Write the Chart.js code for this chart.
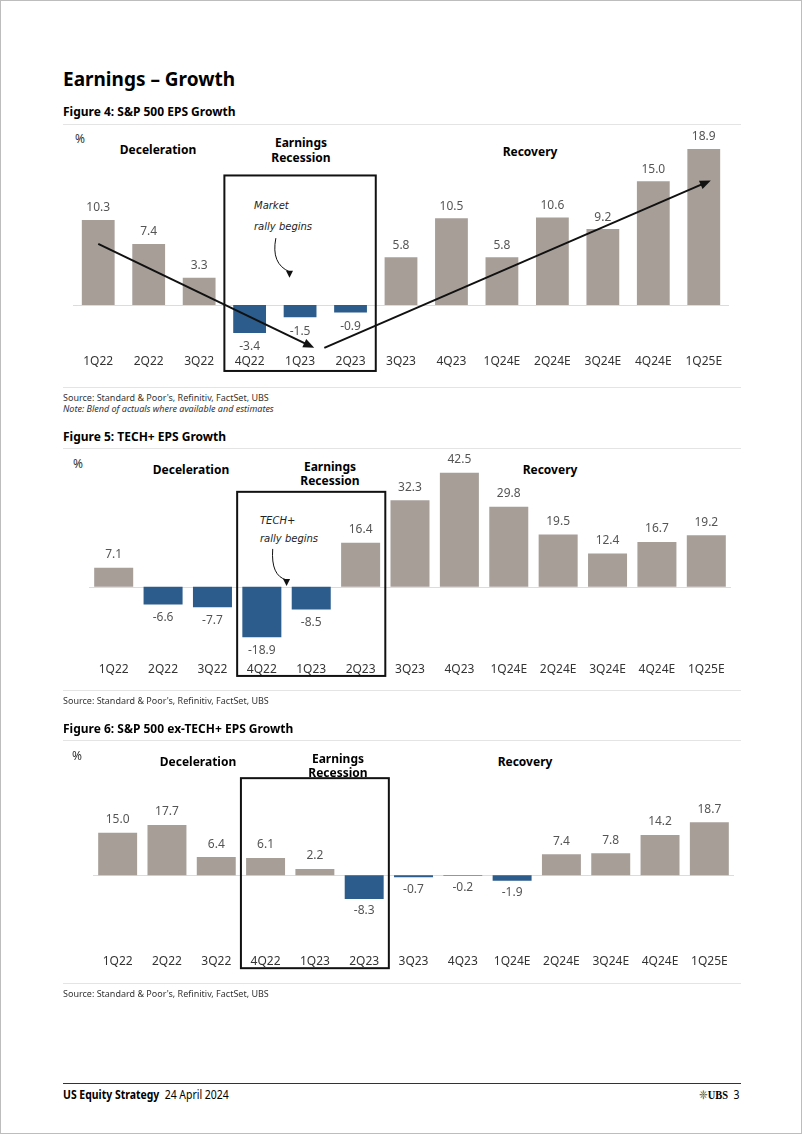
<!DOCTYPE html>
<html>
<head>
<meta charset="utf-8">
<script src="https://cdn.jsdelivr.net/npm/chart.js@4.4.1/dist/chart.umd.min.js"></script>
<style>
  body { margin: 0; background: #fff; }
  #page { position: relative; width: 802px; height: 1134px; overflow: hidden; font-family: "Noto Sans", sans-serif; color: #000; border: 1px solid #bdbdbd; box-sizing: border-box; }
  .t { position: absolute; white-space: nowrap; line-height: 1; }
  .c { transform: translateX(-50%); }
  .b { font-weight: bold; }
  .sec { font-size: 12px; font-weight: bold; }
  .note { font-family: "DejaVu Sans", sans-serif; font-style: italic; font-size: 10px; color: #222; }
  .src { font-size: 9px; color: #333; }
  .rule { position: absolute; left: 62px; width: 678px; height: 1px; background: #e4e4e4; }
  .foot { font-size: 12px; transform: scaleX(0.87); }
  .box { position: absolute; }
</style>
</head>
<body>
<div id="page">
  <div class="t b" style="left:62px;top:69px;font-size:19px;">Earnings – Growth</div>

  <div class="t b" style="left:62px;top:105px;font-size:12px;">Figure 4: S&amp;P 500 EPS Growth</div>
  <div class="rule" style="top:123px"></div>
  <div class="t" style="left:74px;top:132px;font-size:12px;color:#333">%</div>
  <div class="t sec c" style="left:157px;top:143px">Deceleration</div>
  <div class="t sec c" style="left:300px;top:136px">Earnings</div>
  <div class="t sec c" style="left:300px;top:151px">Recession</div>
  <div class="t sec c" style="left:529px;top:145px">Recovery</div>
  <div class="t note" style="left:253px;top:200px">Market</div>
  <div class="t note" style="left:253px;top:221px">rally begins</div>
  <div class="box" style="left:60px;top:120px"><canvas id="c1" width="690" height="260"></canvas></div>
  <div class="rule" style="top:386px"></div>
  <div class="t src" style="left:62px;top:392px">Source: Standard &amp; Poor's, Refinitiv, FactSet, UBS</div>
  <div class="t src" style="left:62px;top:403px;font-style:italic">Note: Blend of actuals where available and estimates</div>

  <div class="t b" style="left:62px;top:430px;font-size:12px;">Figure 5: TECH+ EPS Growth</div>
  <div class="rule" style="top:447px"></div>
  <div class="t" style="left:72px;top:457px;font-size:12px;color:#333">%</div>
  <div class="t sec c" style="left:190px;top:463px">Deceleration</div>
  <div class="t sec c" style="left:329px;top:460px">Earnings</div>
  <div class="t sec c" style="left:329px;top:474px">Recession</div>
  <div class="t sec c" style="left:549px;top:463px">Recovery</div>
  <div class="t note" style="left:259px;top:515px">TECH+</div>
  <div class="t note" style="left:259px;top:533px">rally begins</div>
  <div class="box" style="left:60px;top:445px"><canvas id="c2" width="690" height="250"></canvas></div>
  <div class="rule" style="top:689px"></div>
  <div class="t src" style="left:62px;top:695px">Source: Standard &amp; Poor's, Refinitiv, FactSet, UBS</div>

  <div class="t b" style="left:62px;top:722px;font-size:12px;">Figure 6: S&amp;P 500 ex-TECH+ EPS Growth</div>
  <div class="rule" style="top:739px"></div>
  <div class="t" style="left:71px;top:749px;font-size:12px;color:#333">%</div>
  <div class="t sec c" style="left:197px;top:755px">Deceleration</div>
  <div class="t sec c" style="left:337px;top:752px">Earnings</div>
  <div class="t sec c" style="left:337px;top:766px">Recession</div>
  <div class="t sec c" style="left:524px;top:755px">Recovery</div>
  <div class="box" style="left:60px;top:775px"><canvas id="c3" width="690" height="210"></canvas></div>
  <div class="rule" style="top:982px"></div>
  <div class="t src" style="left:62px;top:988px">Source: Standard &amp; Poor's, Refinitiv, FactSet, UBS</div>

  <div class="rule" style="top:1082px;background:#333"></div>
  <div class="t foot" style="left:62px;top:1088px;transform-origin:left center"><b>US Equity Strategy</b>&nbsp; 24 April 2024</div>
  <div class="t foot" style="right:62px;top:1088px;transform-origin:right center"><span style="color:#555">&#10056;</span><span style="font-family:'Liberation Serif',serif;font-weight:bold">UBS</span>&nbsp; 3</div>
</div>

<script>
const categories = ["1Q22", "2Q22", "3Q22", "4Q22", "1Q23", "2Q23", "3Q23", "4Q23", "1Q24E", "2Q24E", "3Q24E", "4Q24E", "1Q25E"];
const spxGrowth = [10.3, 7.4, 3.3, -3.4, -1.5, -0.9, 5.8, 10.5, 5.8, 10.6, 9.2, 15.0, 18.9];
const techGrowth = [7.1, -6.6, -7.7, -18.9, -8.5, 16.4, 32.3, 42.5, 29.8, 19.5, 12.4, 16.7, 19.2];
const exTechGrowth = [15.0, 17.7, 6.4, 6.1, 2.2, -8.3, -0.7, -0.2, -1.9, 7.4, 7.8, 14.2, 18.7];

const GRAY = "#a79e98";
const BLUE = "#2b5c8c";
const FONT = "Noto Sans";

// value labels above / below each bar
const valueLabels = {
  id: "valueLabels",
  afterDatasetsDraw(chart, args, opts) {
    const ctx = chart.ctx;
    const meta = chart.getDatasetMeta(0);
    const data = chart.data.datasets[0].data;
    ctx.save();
    ctx.font = "12px " + FONT;
    ctx.fillStyle = "#555";
    ctx.textAlign = "center";
    ctx.textBaseline = "middle";
    meta.data.forEach((bar, i) => {
      const v = data[i];
      const y = v < 0 ? bar.y + opts.down : bar.y - opts.up;
      ctx.fillText(v.toFixed(1), bar.x, y);
    });
    ctx.restore();
  }
};

function arrowHead(ctx, x1, y1, x2, y2, len, half) {
  const a = Math.atan2(y2 - y1, x2 - x1);
  ctx.beginPath();
  ctx.moveTo(x2, y2);
  ctx.lineTo(x2 - len * Math.cos(a) + half * Math.sin(a), y2 - len * Math.sin(a) - half * Math.cos(a));
  ctx.lineTo(x2 - len * Math.cos(a) - half * Math.sin(a), y2 - len * Math.sin(a) + half * Math.cos(a));
  ctx.closePath();
  ctx.fill();
}

// zero line, recession box, trend arrows, note arrow
const annotations = {
  id: "annotations",
  beforeDatasetsDraw(chart) {
    const { ctx, chartArea, scales: { y } } = chart;
    const y0 = Math.round(y.getPixelForValue(0)) + 0.5;
    ctx.save();
    ctx.strokeStyle = "#dcdcdc";
    ctx.lineWidth = 1;
    ctx.beginPath();
    ctx.moveTo(chartArea.left, y0);
    ctx.lineTo(chartArea.right, y0);
    ctx.stroke();
    ctx.restore();
  },
  afterDraw(chart, args, opts) {
    const { ctx, scales: { x, y } } = chart;
    const P = (p) => [x.getPixelForValue(p[0]), y.getPixelForValue(p[1])];
    ctx.save();
    ctx.strokeStyle = "#111";
    ctx.fillStyle = "#111";

    const b = opts.box;
    const bx1 = x.getPixelForValue(b.from), bx2 = x.getPixelForValue(b.to);
    const by1 = y.getPixelForValue(b.top), by2 = y.getPixelForValue(b.bottom);
    ctx.lineWidth = 2;
    ctx.strokeRect(bx1, by1, bx2 - bx1, by2 - by1);

    (opts.arrows || []).forEach(ar => {
      const [x1, y1] = P(ar.from), [x2, y2] = P(ar.to);
      const a = Math.atan2(y2 - y1, x2 - x1);
      ctx.lineWidth = 2;
      ctx.beginPath();
      ctx.moveTo(x1, y1);
      ctx.lineTo(x2 - 8 * Math.cos(a), y2 - 8 * Math.sin(a));
      ctx.stroke();
      arrowHead(ctx, x1, y1, x2, y2, 11, 4.5);
    });

    if (opts.curve) {
      const [sx, sy] = P(opts.curve.start), [cx, cy] = P(opts.curve.ctrl), [tx, ty] = P(opts.curve.tip);
      ctx.lineWidth = 1;
      ctx.beginPath();
      ctx.moveTo(sx, sy);
      ctx.quadraticCurveTo(cx, cy, tx, ty - 6);
      ctx.stroke();
      arrowHead(ctx, tx, ty - 8, tx, ty, 7, 3.5);
    }
    ctx.restore();
  }
};

function makeChart(id, values, cfg) {
  return new Chart(document.getElementById(id), {
    type: "bar",
    data: {
      labels: categories,
      datasets: [{
        data: values,
        backgroundColor: values.map(v => v < 0 ? BLUE : GRAY),
        borderWidth: 0,
        categoryPercentage: 1,
        barPercentage: cfg.bar
      }]
    },
    options: {
      responsive: false,
      animation: false,
      devicePixelRatio: 1,
      layout: { padding: cfg.padding },
      scales: {
        x: {
          grid: { display: false, drawTicks: false },
          border: { display: false },
          ticks: { color: "#333", font: { family: FONT, size: 12 }, padding: 3, maxRotation: 0, autoSkip: false },
          afterFit(s) { s.height = 30; }
        },
        y: { display: false, min: cfg.min, max: cfg.max }
      },
      plugins: {
        legend: { display: false },
        tooltip: { enabled: false },
        valueLabels: cfg.labels,
        annotations: cfg.notes
      }
    },
    plugins: [valueLabels, annotations]
  });
}

makeChart("c1", spxGrowth, {
  bar: 0.65,
  padding: { left: 12, right: 22, top: 10, bottom: 0 },
  min: -5.58, max: 21.09,
  labels: { up: 12, down: 14 },
  notes: {
    box: { from: 2.5, to: 5.5, top: 15.7, bottom: -8.0 },
    arrows: [
      { from: [0, 7.4], to: [4.28, -5.2] },
      { from: [4.48, -5.2], to: [12.14, 15.1] }
    ],
    curve: { start: [3.52, 8.1], ctrl: [3.42, 5.0], tip: [3.79, 3.3] }
  }
});

makeChart("c2", techGrowth, {
  bar: 0.79,
  padding: { left: 28, right: 20, top: 20, bottom: 7 },
  min: -26.98, max: 45.04,
  labels: { up: 13, down: 13 },
  notes: {
    box: { from: 2.5, to: 5.5, top: 35.4, bottom: -33.3 },
    curve: { start: [3.22, 14.1], ctrl: [3.18, 4.0], tip: [3.5, 0.3] }
  }
});

makeChart("c3", exTechGrowth, {
  bar: 0.79,
  padding: { left: 32, right: 17, top: 10, bottom: 5 },
  min: -26.65, max: 31.44,
  labels: { up: 13, down: 12 },
  notes: {
    box: { from: 2.5, to: 5.5, top: 34.2, bottom: -32.7 }
  }
});
</script>
</body>
</html>
